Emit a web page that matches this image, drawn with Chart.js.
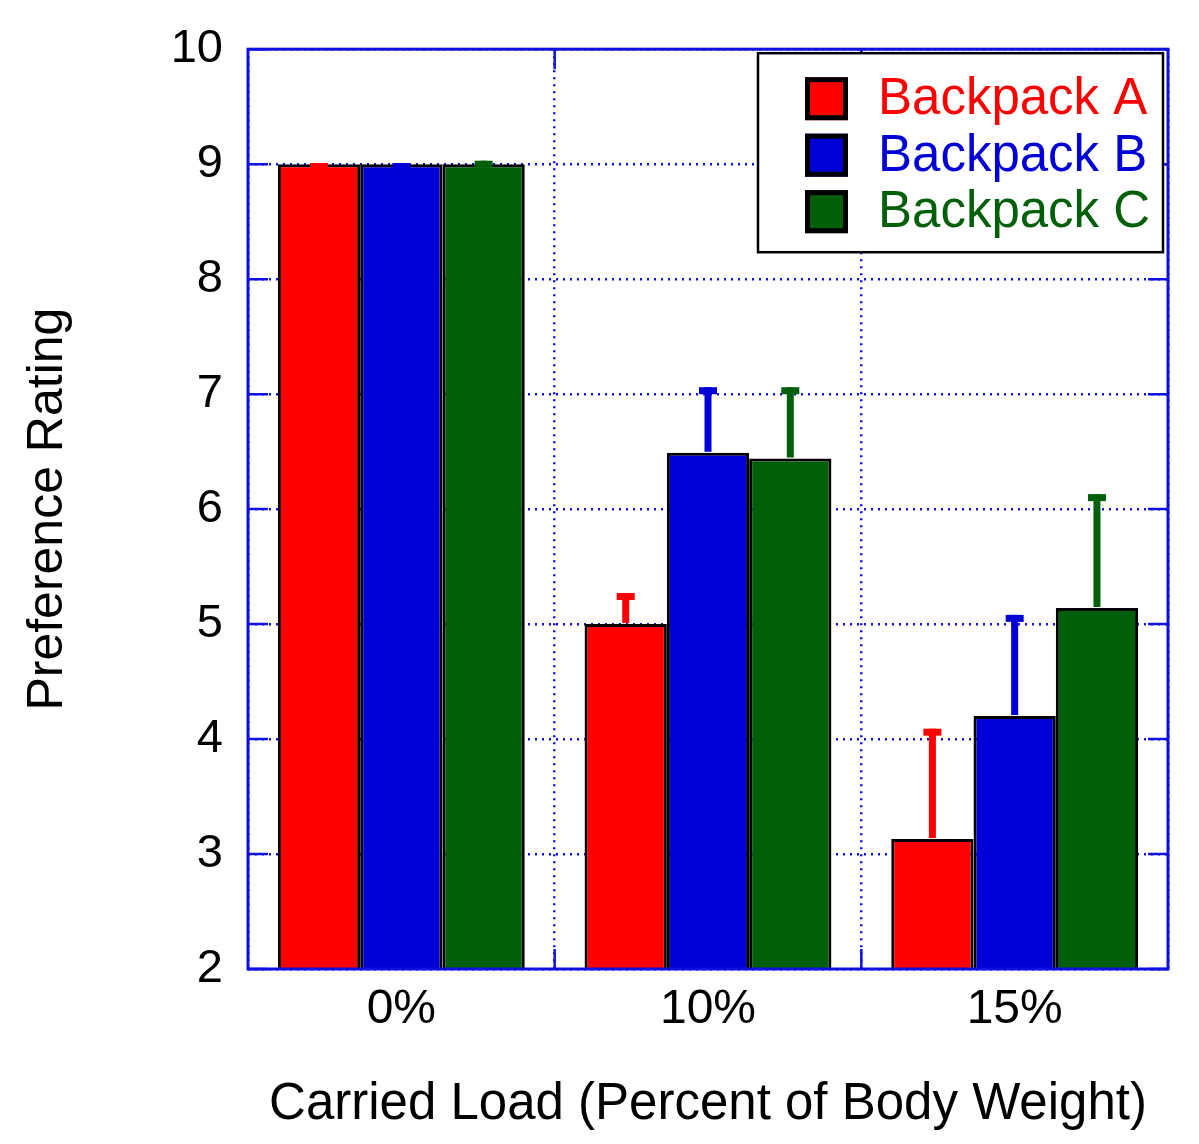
<!DOCTYPE html>
<html>
<head>
<meta charset="utf-8">
<script src="https://cdn.jsdelivr.net/npm/chart.js@4.4.1/dist/chart.umd.min.js"></script>
<style>
    body { margin: 0; background: #fff; overflow: hidden; }
    #wrap { width: 1199px; height: 1148px; position: relative; margin-top: -4px; }
</style>
</head>
<body>
<div id="wrap"><canvas id="prefChart"></canvas></div>
<script>
// data
const categories = ['0%', '10%', '15%'];
const seriesNames = ['Backpack A', 'Backpack B', 'Backpack C'];
const backpackA = [9.0, 5.0, 3.13];
const backpackB = [9.0, 6.49, 4.2];
const backpackC = [9.0, 6.44, 5.14];
// upper error bars
const errA = [0.01, 0.27, 0.96];
const errB = [0.01, 0.57, 0.88];
const errC = [0.03, 0.62, 0.99];

const RED = '#ff0000';
const BLUE = '#0000d6';
const GREEN = '#005f08';
const GRID = '#1010e0';
const FONT = "'Liberation Sans', Arial, sans-serif";

const errors = [errA, errB, errC];

// frame with short inner ticks
const framePlugin = {
    id: 'frame',
    afterDatasetsDraw(chart) {
        const { ctx, chartArea: a, scales } = chart;
        ctx.save();
        ctx.strokeStyle = GRID;
        ctx.lineWidth = 3;
        ctx.strokeRect(a.left, a.top, a.right - a.left, a.bottom - a.top);
        ctx.lineWidth = 2.5;
        ctx.beginPath();
        scales.y.ticks.forEach(t => {
            const y = scales.y.getPixelForValue(t.value);
            ctx.moveTo(a.left, y); ctx.lineTo(a.left + 20, y);
            ctx.moveTo(a.right, y); ctx.lineTo(a.right - 20, y);
        });
        for (let i = 1; i < categories.length; i++) {
            const x = (scales.x.getPixelForValue(i - 1) + scales.x.getPixelForValue(i)) / 2;
            ctx.moveTo(x, a.top); ctx.lineTo(x, a.top + 20);
            ctx.moveTo(x, a.bottom); ctx.lineTo(x, a.bottom - 20);
        }
        ctx.stroke();
        ctx.restore();
    }
};

// upper error bars with caps
const errorBarPlugin = {
    id: 'errorBars',
    afterDatasetsDraw(chart) {
        const { ctx, scales } = chart;
        ctx.save();
        chart.data.datasets.forEach((ds, i) => {
            const meta = chart.getDatasetMeta(i);
            meta.data.forEach((bar, j) => {
                const top = scales.y.getPixelForValue(ds.data[j] + errors[i][j]);
                ctx.fillStyle = ds.backgroundColor;
                ctx.fillRect(bar.x - 3.5, top, 7, bar.y - top - 1);
                ctx.fillRect(bar.x - 9, top, 18, 7);
            });
        });
        ctx.restore();
    }
};

// boxed legend in the upper right corner
const legendPlugin = {
    id: 'boxLegend',
    afterDraw(chart) {
        const { ctx, chartArea: a } = chart;
        const left = a.right - 410, top = a.top + 4, w = 405, h = 199;
        ctx.save();
        ctx.fillStyle = '#fff';
        ctx.fillRect(left, top, w, h);
        ctx.strokeStyle = '#000';
        ctx.lineWidth = 2.5;
        ctx.strokeRect(left, top, w, h);
        ctx.font = '51px ' + FONT;
        ctx.textBaseline = 'middle';
        chart.data.datasets.forEach((ds, i) => {
            const cy = top + 45 + i * 56.5;
            ctx.fillStyle = ds.backgroundColor;
            ctx.fillRect(left + 47, cy - 21, 43, 43);
            ctx.lineWidth = 5;
            ctx.strokeStyle = '#000';
            ctx.strokeRect(left + 49.5, cy - 18.5, 38, 38);
            ctx.fillStyle = ds.backgroundColor;
            ctx.fillText(ds.label, left + 120, cy + 2);
        });
        ctx.restore();
    }
};

const ctx = document.getElementById('prefChart').getContext('2d');

const prefChart = new Chart(ctx, {
    type: 'bar',
    data: {
        labels: categories,
        datasets: [
            { label: seriesNames[0], data: backpackA, backgroundColor: RED },
            { label: seriesNames[1], data: backpackB, backgroundColor: BLUE },
            { label: seriesNames[2], data: backpackC, backgroundColor: GREEN }
        ].map(d => Object.assign(d, {
            borderColor: '#000',
            borderWidth: 3,
            borderSkipped: 'start',
            categoryPercentage: 0.805,
            barPercentage: 1.0
        }))
    },
    options: {
        responsive: true,
        maintainAspectRatio: false,
        animation: false,
        layout: { padding: { top: 40, right: 31, left: 0, bottom: 0 } },
        plugins: {
            legend: { display: false },
            tooltip: { enabled: false }
        },
        scales: {
            x: {
                grid: {
                    color: GRID,
                    lineWidth: 2.5,
                    drawTicks: false
                },
                border: { display: false, dash: [2, 5] },
                ticks: { color: '#000', font: { family: FONT, size: 48 }, padding: 12 },
                title: {
                    display: true,
                    text: 'Carried Load (Percent of Body Weight)',
                    color: '#000',
                    font: { family: FONT, size: 51 },
                    padding: { top: 0, bottom: 8 }
                },
                afterFit(scale) { scale.height = 175; }
            },
            y: {
                min: 2,
                max: 10,
                ticks: { stepSize: 1, color: '#000', font: { family: FONT, size: 47 }, padding: 25 },
                grid: {
                    color: GRID,
                    lineWidth: 2.5,
                    drawTicks: false
                },
                border: { display: false, dash: [2, 5] },
                title: {
                    display: true,
                    text: 'Preference Rating',
                    color: '#000',
                    font: { family: FONT, size: 50 },
                    padding: { top: 18, bottom: 0 }
                },
                afterFit(scale) { scale.width = 248; }
            }
        }
    },
    plugins: [framePlugin, errorBarPlugin, legendPlugin]
});
</script>
</body>
</html>
